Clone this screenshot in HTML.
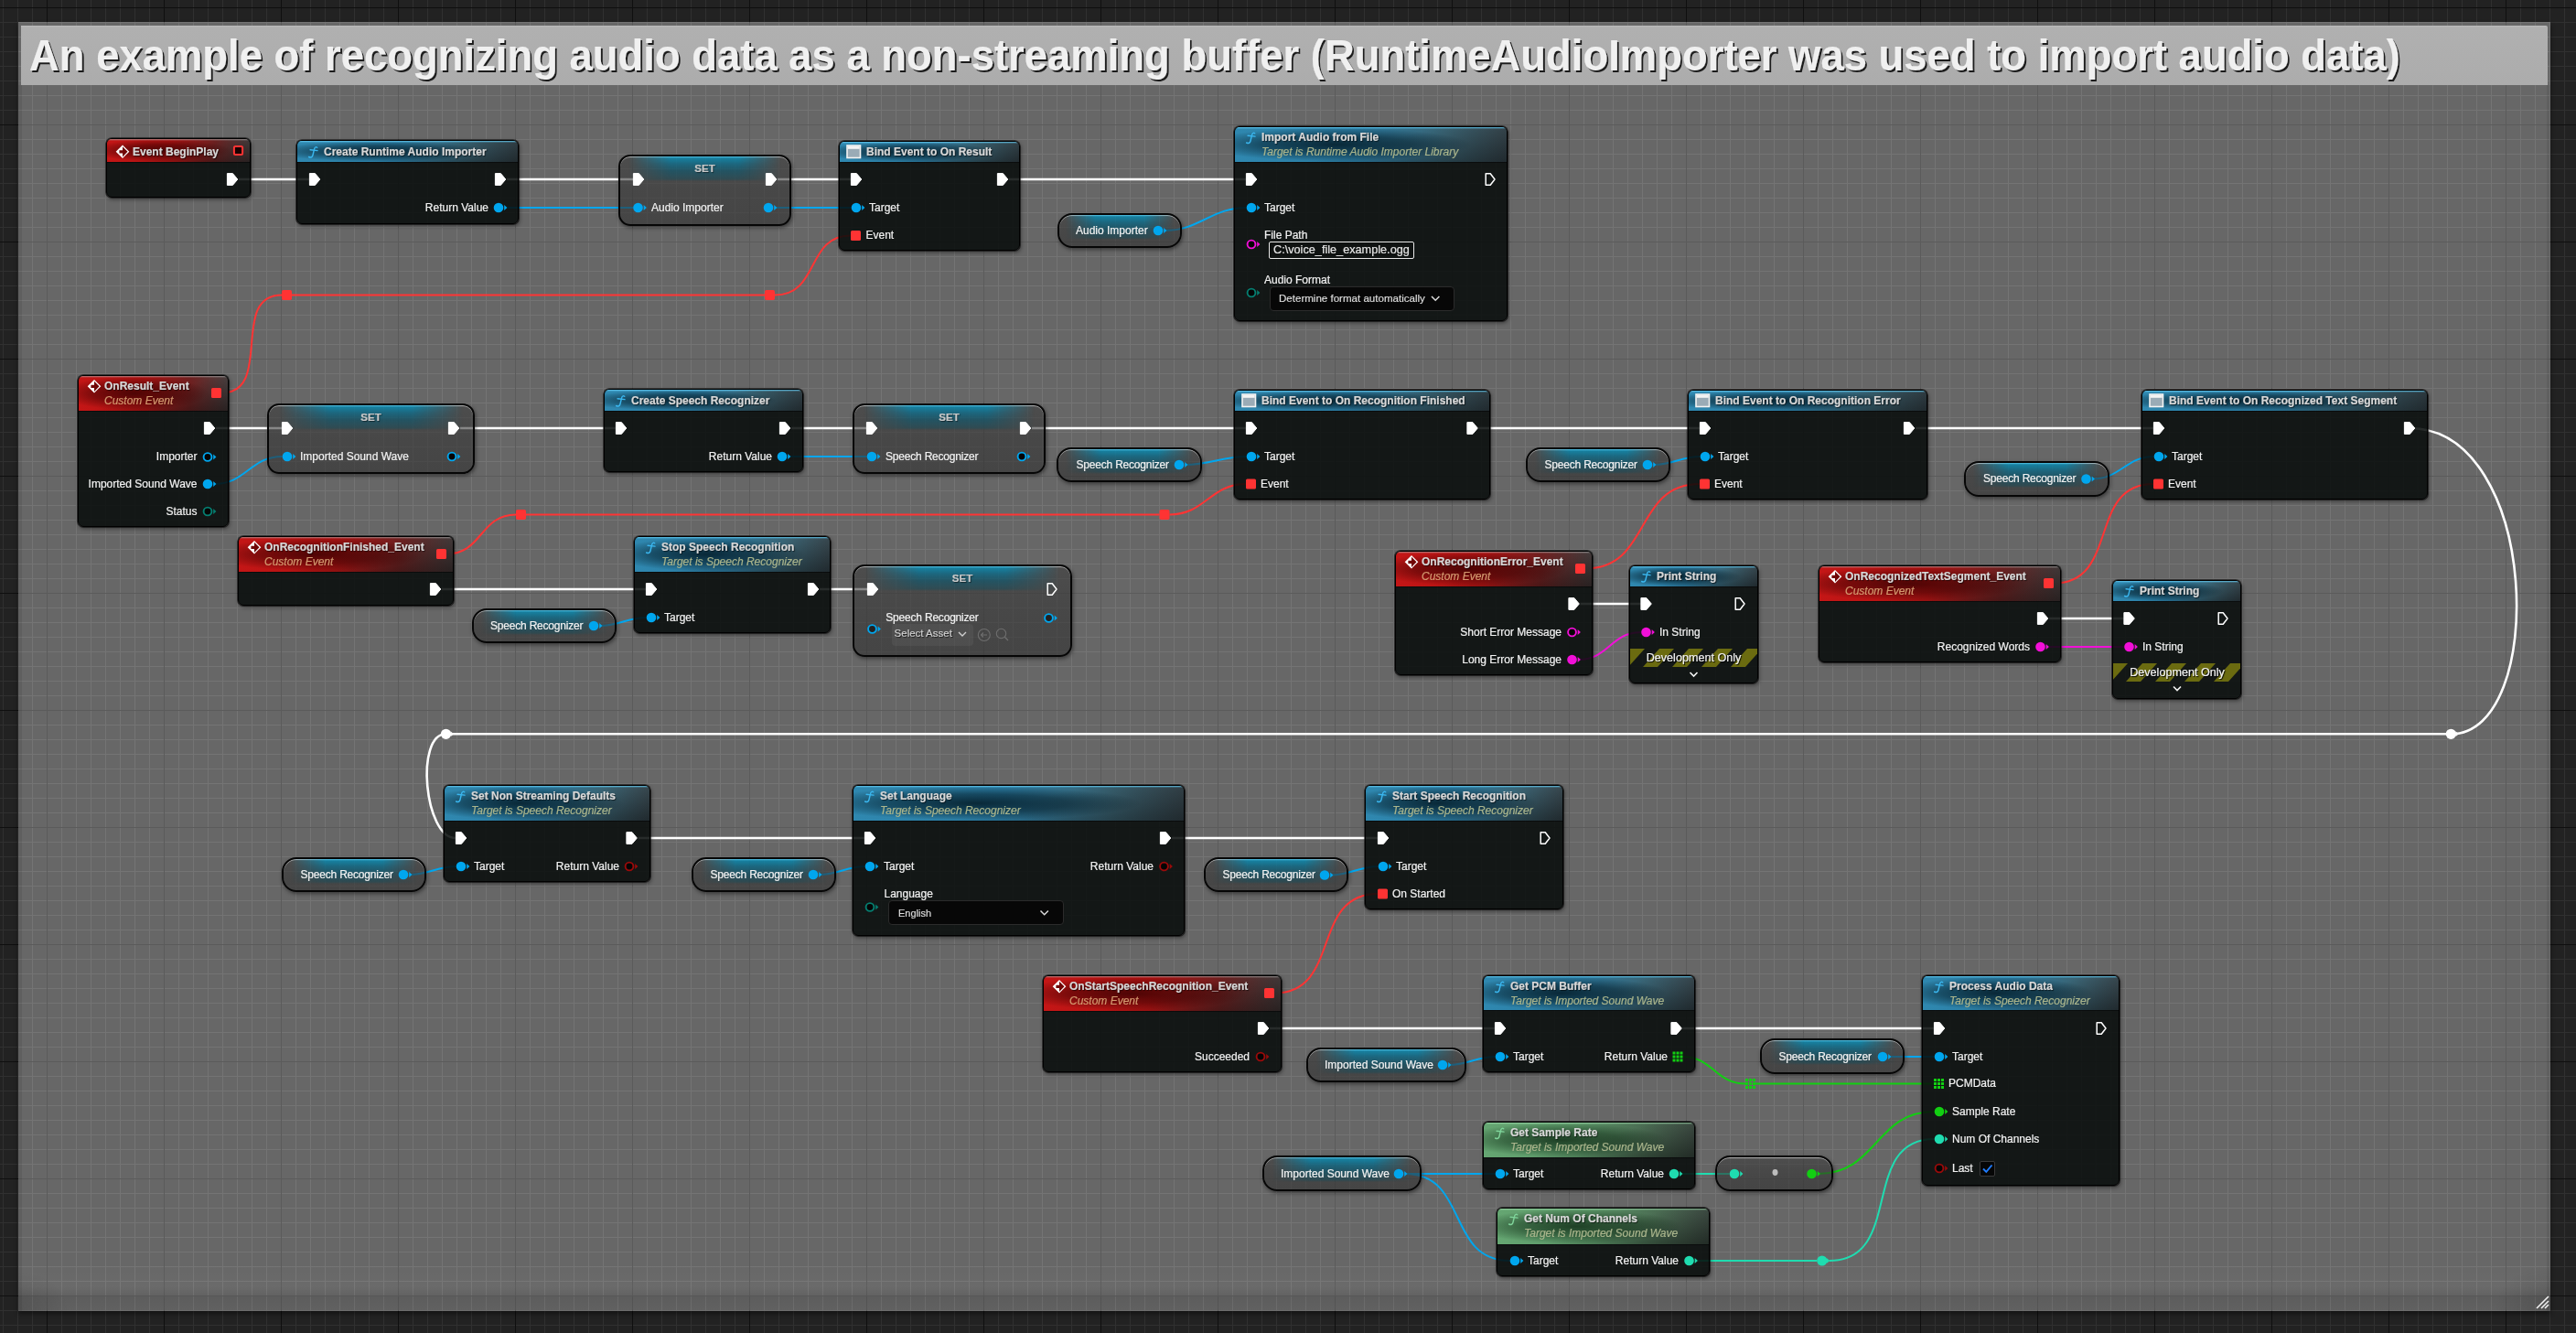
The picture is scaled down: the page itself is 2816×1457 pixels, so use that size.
<!DOCTYPE html>
<html><head><meta charset="utf-8"><title>Blueprint</title><style>
*{margin:0;padding:0}
html,body{width:2816px;height:1457px;overflow:hidden}
body{background-color:#222;position:relative;font-family:"Liberation Sans", sans-serif;
background-image:linear-gradient(90deg,#0f0f0f 1px,transparent 1px),linear-gradient(180deg,#0f0f0f 1px,transparent 1px),
linear-gradient(90deg,#303030 1px,transparent 1px),linear-gradient(180deg,#303030 1px,transparent 1px);
background-size:128px 128px,128px 128px,16px 16px,16px 16px;
background-position:51px 0,0 8px,3px 0,0 8px}
.cm{position:absolute;left:20px;top:24px;width:2768px;height:1409px;background-color:#676767;
background-image:linear-gradient(90deg,#5b5b5b 1px,transparent 1px),linear-gradient(180deg,#5b5b5b 1px,transparent 1px),
linear-gradient(90deg,#747474 1px,transparent 1px),linear-gradient(180deg,#747474 1px,transparent 1px);
background-size:128px 128px,128px 128px,16px 16px,16px 16px;
background-position:31px 0,0 -16px,15px 0,0 0;box-shadow:0 3px 5px rgba(0,0,0,.45)}
.tbar{position:absolute;left:23px;top:28px;width:2762px;height:65px;background:linear-gradient(180deg,#bdbdbd 0,#b0b0b0 2px,#acacac 100%);border-radius:0 2px 0 0}
.ttl{position:absolute;left:31.5px;top:36px;font-size:49px;font-weight:700;color:#f0f0f0;white-space:nowrap;line-height:49px;
text-shadow:2px 2px 0 #1c1c1c;-webkit-text-stroke:0.5px #f0f0f0;transform:scaleX(0.927);transform-origin:0 0}
svg{position:absolute;left:0;top:0}
.n{position:absolute;box-sizing:border-box;border:1px solid #000;border-radius:6px;background:rgba(7,11,10,.87);
box-shadow:0 0 0 0.8px rgba(0,0,0,.65),1px 2px 4px rgba(0,0,0,.45);overflow:hidden}
.hd{position:absolute;left:0;top:0;right:0;box-shadow:0 1px 0 rgba(0,0,0,.45)}
.hf{background:linear-gradient(180deg,rgba(100,205,245,.9) 0,rgba(100,205,245,0) 2px),
radial-gradient(ellipse 50% 48% at 37% 50%,rgba(2,22,32,.82) 0%,rgba(2,22,32,.5) 55%,rgba(2,22,32,0) 100%),
linear-gradient(165deg,rgba(0,0,0,0) 50%,rgba(12,16,18,.6) 100%),
linear-gradient(90deg,#2f88b0 0%,#2a7aa0 45%,#3a6474 78%,#3f5058 100%)}
.he{background:linear-gradient(180deg,rgba(175,175,175,.7) 0,rgba(175,175,175,0) 2px),
radial-gradient(ellipse 50% 48% at 37% 50%,rgba(45,0,0,.75) 0%,rgba(45,0,0,.45) 55%,rgba(45,0,0,0) 100%),
linear-gradient(165deg,rgba(0,0,0,0) 50%,rgba(18,12,12,.6) 100%),
linear-gradient(90deg,#c41616 0%,#ae1212 45%,#6e2020 75%,#4a4242 100%)}
.hp{background:linear-gradient(180deg,rgba(170,235,185,.7) 0,rgba(170,235,185,0) 2px),
radial-gradient(ellipse 50% 48% at 37% 50%,rgba(5,28,10,.7) 0%,rgba(5,28,10,.42) 55%,rgba(5,28,10,0) 100%),
linear-gradient(165deg,rgba(0,0,0,0) 50%,rgba(12,18,14,.6) 100%),
linear-gradient(90deg,#65a672 0%,#5a9466 45%,#4a6a52 78%,#44524a 100%)}
.ns{position:absolute;box-sizing:border-box;border:2px solid #060606;border-radius:13px;
background:linear-gradient(180deg,rgba(110,110,110,.55) 0,rgba(55,55,55,.55) 2px,rgba(52,52,52,.62) 50%,rgba(48,48,48,.62) 100%);
box-shadow:1px 2px 4px rgba(0,0,0,.45), inset 0 1px 0 rgba(230,230,230,.55);overflow:hidden}
.pl{border-radius:16px}
.glow{position:absolute;left:0;right:0;top:0;height:27px;
background:linear-gradient(180deg,rgba(60,190,230,.85) 0,rgba(0,150,195,.7) 2px,rgba(0,120,158,.62) 30%,rgba(0,92,120,.52) 60%,rgba(15,78,95,.42) 92%,rgba(15,78,95,0) 100%);
-webkit-mask-image:linear-gradient(90deg,transparent 5%,#000 30%,#000 70%,transparent 95%);mask-image:linear-gradient(90deg,transparent 5%,#000 30%,#000 70%,transparent 95%)}
.t{position:absolute;white-space:nowrap;line-height:1;font-family:"Liberation Sans", sans-serif;-webkit-text-stroke:0.2px currentColor}
.tb{position:absolute;box-sizing:border-box;border:1px solid #e8e8e8;border-radius:2px;background:rgba(0,0,0,.2)}
.dd{position:absolute;box-sizing:border-box;border:1px solid #2b2b2b;border-radius:4px;background:#070707}
.sa{position:absolute;border-radius:4px;background:rgba(120,120,120,.18)}
.cb{position:absolute;box-sizing:border-box;border:1px solid #3a3a3a;border-radius:2px;background:#060606}
.dev{position:absolute;background:repeating-linear-gradient(-56deg,transparent 0,transparent 14px,#6a6a12 14px,#6a6a12 27px)}
</style></head>
<body>
<div class="cm"></div>
<div class="tbar"></div>
<div style="position:absolute;left:20px;top:1417px;width:2768px;height:16px;background:linear-gradient(180deg,rgba(0,0,0,.1),rgba(0,0,0,.06))"></div>
<div style="position:absolute;left:20px;top:1380px;width:2768px;height:37px;background:linear-gradient(180deg,rgba(255,255,255,0),rgba(255,255,255,.025) 70%,rgba(0,0,0,.05) 100%)"></div>
<div style="position:absolute;left:20px;top:93px;width:4px;height:1340px;background:rgba(0,0,0,.07)"></div>
<div style="position:absolute;left:2784px;top:93px;width:4px;height:1340px;background:rgba(0,0,0,.07)"></div>
<div style="position:absolute;left:2700px;top:1360px;width:88px;height:73px;background:radial-gradient(ellipse 100% 100% at 100% 100%,rgba(0,0,0,.14),rgba(0,0,0,0) 70%)"></div>
<div style="position:absolute;left:20px;top:1370px;width:80px;height:63px;background:radial-gradient(ellipse 100% 100% at 0% 100%,rgba(0,0,0,.12),rgba(0,0,0,0) 70%)"></div>
<div class="t ttl">An example of recognizing audio data as a non-streaming buffer (RuntimeAudioImporter was used to import audio data)</div>
<svg width="2816" height="1457" viewBox="0 0 2816 1457"><path d="M261.0 196.0 L338.5 196.0" stroke="#ffffff" stroke-width="2.6" fill="none"/><path d="M554.0 196.0 L692.5 196.0" stroke="#ffffff" stroke-width="2.6" fill="none"/><path d="M850.0 196.0 L930.5 196.0" stroke="#ffffff" stroke-width="2.6" fill="none"/><path d="M1103.0 196.0 L1362.5 196.0" stroke="#ffffff" stroke-width="2.6" fill="none"/><path d="M236.0 468.0 L308.5 468.0" stroke="#ffffff" stroke-width="2.6" fill="none"/><path d="M503.0 468.0 L673.5 468.0" stroke="#ffffff" stroke-width="2.6" fill="none"/><path d="M865.0 468.0 L947.5 468.0" stroke="#ffffff" stroke-width="2.6" fill="none"/><path d="M1128.0 468.0 L1362.5 468.0" stroke="#ffffff" stroke-width="2.6" fill="none"/><path d="M1616.5 468.0 L1858.5 468.0" stroke="#ffffff" stroke-width="2.6" fill="none"/><path d="M2094.0 468.0 L2354.5 468.0" stroke="#ffffff" stroke-width="2.6" fill="none"/><path d="M2634 468 C2777 468 2785.3 802.3 2679.3 802.3" stroke="#fff" stroke-width="2.6" fill="none"/><path d="M2679.3 802.3 L487.5 802.3" stroke="#fff" stroke-width="2.6" fill="none"/><path d="M487.5 802.3 C453.5 802.3 464.0 916.0 498.0 916.0" stroke="#ffffff" stroke-width="2.6" fill="none"/><path d="M697.5 916.0 L945.5 916.0" stroke="#ffffff" stroke-width="2.6" fill="none"/><path d="M1281.0 916.0 L1506.5 916.0" stroke="#ffffff" stroke-width="2.6" fill="none"/><path d="M483.0 644.0 L706.5 644.0" stroke="#ffffff" stroke-width="2.6" fill="none"/><path d="M896.0 644.0 L948.5 644.0" stroke="#ffffff" stroke-width="2.6" fill="none"/><path d="M1727.5 660.0 L1794.0 660.0" stroke="#ffffff" stroke-width="2.6" fill="none"/><path d="M2240.0 676.0 L2322.0 676.0" stroke="#ffffff" stroke-width="2.6" fill="none"/><path d="M1388.0 1124.0 L1634.5 1124.0" stroke="#ffffff" stroke-width="2.6" fill="none"/><path d="M1839.5 1124.0 L2114.5 1124.0" stroke="#ffffff" stroke-width="2.6" fill="none"/><path d="M552.0 227.0 L692.0 227.0" stroke="#00a6ee" stroke-width="2.0" fill="none"/><path d="M847.0 227.0 L930.5 227.0" stroke="#00a6ee" stroke-width="2.0" fill="none"/><path d="M1273.0 252.0 C1311.2 252.0 1324.3 227.0 1362.5 227.0" stroke="#00a6ee" stroke-width="2.0" fill="none"/><path d="M234.0 529.0 C268.8 529.0 273.7 499.0 308.5 499.0" stroke="#00a6ee" stroke-width="2.0" fill="none"/><path d="M862.0 499.0 L947.5 499.0" stroke="#00a6ee" stroke-width="2.0" fill="none"/><path d="M1296.0 508.0 C1321.2 508.0 1337.3 499.0 1362.5 499.0" stroke="#00a6ee" stroke-width="2.0" fill="none"/><path d="M1808.0 508.0 C1827.8 508.0 1838.7 499.0 1858.5 499.0" stroke="#00a6ee" stroke-width="2.0" fill="none"/><path d="M2287.5 523.5 C2318.0 523.5 2324.0 499.0 2354.5 499.0" stroke="#00a6ee" stroke-width="2.0" fill="none"/><path d="M656.0 684.0 C675.8 684.0 686.7 675.0 706.5 675.0" stroke="#00a6ee" stroke-width="2.0" fill="none"/><path d="M448.0 956.0 C467.8 956.0 478.7 947.0 498.5 947.0" stroke="#00a6ee" stroke-width="2.0" fill="none"/><path d="M896.0 956.0 C915.5 956.0 926.0 947.0 945.5 947.0" stroke="#00a6ee" stroke-width="2.0" fill="none"/><path d="M1455.0 956.5 C1475.3 956.5 1486.2 947.0 1506.5 947.0" stroke="#00a6ee" stroke-width="2.0" fill="none"/><path d="M1584.0 1164.0 C1603.8 1164.0 1614.7 1155.0 1634.5 1155.0" stroke="#00a6ee" stroke-width="2.0" fill="none"/><path d="M2065.0 1155.0 L2114.5 1155.0" stroke="#00a6ee" stroke-width="2.0" fill="none"/><path d="M1536.0 1283.0 L1634.5 1283.0" stroke="#00a6ee" stroke-width="2.0" fill="none"/><path d="M1536.0 1283.0 C1605.8 1283.0 1580.7 1378.0 1650.5 1378.0" stroke="#00a6ee" stroke-width="2.0" fill="none"/><path d="M242.0 429.5 C299.7 429.5 250.3 322.5 308.0 322.5" stroke="#ff3434" stroke-width="2.0" fill="none"/><path d="M319.0 322.5 L836.0 322.5" stroke="#ff3434" stroke-width="2.0" fill="none"/><path d="M847.0 322.5 C896.3 322.5 880.7 257.5 930.0 257.5" stroke="#ff3434" stroke-width="2.0" fill="none"/><path d="M488.0 605.5 C527.7 605.5 524.3 562.5 564.0 562.5" stroke="#ff3434" stroke-width="2.0" fill="none"/><path d="M575.0 562.5 L1267.5 562.5" stroke="#ff3434" stroke-width="2.0" fill="none"/><path d="M1278.5 562.5 C1317.5 562.5 1323.0 529.0 1362.0 529.0" stroke="#ff3434" stroke-width="2.0" fill="none"/><path d="M1733.0 621.5 C1805.5 621.5 1785.5 529.0 1858.0 529.0" stroke="#ff3434" stroke-width="2.0" fill="none"/><path d="M2245.0 637.5 C2317.5 637.5 2281.5 529.0 2354.0 529.0" stroke="#ff3434" stroke-width="2.0" fill="none"/><path d="M1393.0 1085.5 C1466.8 1085.5 1432.2 977.0 1506.0 977.0" stroke="#ff3434" stroke-width="2.0" fill="none"/><path d="M1725.5 721.0 C1758.3 721.0 1761.2 691.0 1794.0 691.0" stroke="#f20fd8" stroke-width="2.0" fill="none"/><path d="M2237.5 707.0 L2322.0 707.0" stroke="#f20fd8" stroke-width="2.0" fill="none"/><path d="M1839.5 1155.0 C1872.2 1155.0 1875.3 1184.5 1908.0 1184.5" stroke="#12cf12" stroke-width="2.0" fill="none"/><path d="M1919.0 1184.5 L2114.0 1184.5" stroke="#12cf12" stroke-width="2.0" fill="none"/><path d="M1987.5 1283.0 C2052.5 1283.0 2049.5 1215.0 2114.5 1215.0" stroke="#12cf12" stroke-width="2.0" fill="none"/><path d="M1837.0 1283.0 L1890.5 1283.0" stroke="#1fdcb0" stroke-width="2.0" fill="none"/><path d="M1853.5 1378.0 L1986.3 1378.0" stroke="#1fdcb0" stroke-width="2.0" fill="none"/><path d="M1999.8 1378.0 C2082.4 1378.0 2031.9 1245.0 2114.5 1245.0" stroke="#1fdcb0" stroke-width="2.0" fill="none"/></svg>
<div class="n" style="left:116px;top:151px;width:158px;height:65px"><div class="hd he" style="height:25px"></div></div><div class="n" style="left:324px;top:153px;width:243px;height:92px"><div class="hd hf" style="height:23px"></div></div><div class="ns" style="left:676px;top:169px;width:189px;height:78px"><div class="glow"></div></div><div class="n" style="left:917px;top:154px;width:198px;height:120px"><div class="hd hf" style="height:22px"></div></div><div class="ns pl" style="left:1156px;top:233px;width:136px;height:38px"><div class="glow"></div></div><div class="n" style="left:1349px;top:138px;width:299px;height:213px"><div class="hd hf" style="height:38px"></div></div><div class="tb" style="left:1387px;top:264px;width:159px;height:19px"></div><div class="dd" style="left:1388px;top:313px;width:202px;height:27px"></div><div class="n" style="left:85px;top:410px;width:165px;height:166px"><div class="hd he" style="height:38px"></div></div><div class="ns" style="left:292px;top:441px;width:227px;height:77px"><div class="glow"></div></div><div class="n" style="left:660px;top:425px;width:218px;height:91px"><div class="hd hf" style="height:23px"></div></div><div class="ns" style="left:932px;top:441px;width:211px;height:77px"><div class="glow"></div></div><div class="ns pl" style="left:1155px;top:489px;width:159px;height:38px"><div class="glow"></div></div><div class="n" style="left:1349px;top:426px;width:280px;height:120px"><div class="hd hf" style="height:22px"></div></div><div class="ns pl" style="left:1668px;top:489px;width:158px;height:38px"><div class="glow"></div></div><div class="n" style="left:1845px;top:426px;width:262px;height:120px"><div class="hd hf" style="height:22px"></div></div><div class="ns pl" style="left:2147px;top:504px;width:159px;height:39px"><div class="glow"></div></div><div class="n" style="left:2341px;top:426px;width:313px;height:120px"><div class="hd hf" style="height:22px"></div></div><div class="n" style="left:260px;top:586px;width:236px;height:76px"><div class="hd he" style="height:38px"></div></div><div class="ns pl" style="left:516px;top:665px;width:158px;height:38px"><div class="glow"></div></div><div class="n" style="left:693px;top:586px;width:215px;height:106px"><div class="hd hf" style="height:38px"></div></div><div class="ns" style="left:932px;top:617px;width:240px;height:101px"><div class="glow"></div></div><div class="sa" style="left:975px;top:682px;width:89px;height:24px"></div><div class="n" style="left:1525px;top:602px;width:216px;height:136px"><div class="hd he" style="height:38px"></div></div><div class="n" style="left:1781px;top:618px;width:141px;height:129px"><div class="hd hf" style="height:22px"></div></div><div class="n" style="left:1988px;top:618px;width:265px;height:106px"><div class="hd he" style="height:38px"></div></div><div class="n" style="left:2309px;top:634px;width:141px;height:130px"><div class="hd hf" style="height:22px"></div></div><div class="n" style="left:485px;top:858px;width:226px;height:106px"><div class="hd hf" style="height:38px"></div></div><div class="ns pl" style="left:308px;top:937px;width:158px;height:38px"><div class="glow"></div></div><div class="ns pl" style="left:756px;top:937px;width:158px;height:38px"><div class="glow"></div></div><div class="n" style="left:932px;top:858px;width:363px;height:165px"><div class="hd hf" style="height:38px"></div></div><div class="dd" style="left:971px;top:984px;width:192px;height:27px"></div><div class="ns pl" style="left:1316px;top:937px;width:158px;height:38px"><div class="glow"></div></div><div class="n" style="left:1492px;top:858px;width:217px;height:136px"><div class="hd hf" style="height:38px"></div></div><div class="n" style="left:1140px;top:1066px;width:261px;height:106px"><div class="hd he" style="height:38px"></div></div><div class="ns pl" style="left:1428px;top:1145px;width:175px;height:38px"><div class="glow"></div></div><div class="n" style="left:1621px;top:1066px;width:232px;height:106px"><div class="hd hf" style="height:37px"></div></div><div class="n" style="left:2101px;top:1066px;width:216px;height:230px"><div class="hd hf" style="height:37px"></div></div><div class="cb" style="left:2164px;top:1269px;width:17px;height:17px"></div><div class="ns pl" style="left:1924px;top:1135px;width:158px;height:39px"><div class="glow"></div></div><div class="n" style="left:1621px;top:1226px;width:232px;height:74px"><div class="hd hp" style="height:38px"></div></div><div class="ns pl" style="left:1380px;top:1263px;width:174px;height:39px"><div class="glow"></div></div><div class="ns pl" style="left:1875px;top:1263px;width:129px;height:39px"></div><div class="n" style="left:1636px;top:1320px;width:233px;height:75px"><div class="hd hp" style="height:39px"></div></div>
<svg width="2816" height="1457" viewBox="0 0 2816 1457"><clipPath id="clip2309"><rect x="2310" y="725" width="139" height="20"/></clipPath><g clip-path="url(#clip2309)" fill="#6b6b10"><path d="M2310.0 725 L2326.0 725 L2308.0 745 L2292.0 745 Z"/><path d="M2342.0 725 L2358.0 725 L2340.0 745 L2324.0 745 Z"/><path d="M2374.0 725 L2390.0 725 L2372.0 745 L2356.0 745 Z"/><path d="M2406.0 725 L2422.0 725 L2404.0 745 L2388.0 745 Z"/><path d="M2438.0 725 L2454.0 725 L2436.0 745 L2420.0 745 Z"/><path d="M2470.0 725 L2486.0 725 L2468.0 745 L2452.0 745 Z"/><path d="M2502.0 725 L2518.0 725 L2500.0 745 L2484.0 745 Z"/></g><clipPath id="clip1781"><rect x="1782" y="709" width="139" height="20"/></clipPath><g clip-path="url(#clip1781)" fill="#6b6b10"><path d="M1782.0 709 L1798.0 709 L1780.0 729 L1764.0 729 Z"/><path d="M1814.0 709 L1830.0 709 L1812.0 729 L1796.0 729 Z"/><path d="M1846.0 709 L1862.0 709 L1844.0 729 L1828.0 729 Z"/><path d="M1878.0 709 L1894.0 709 L1876.0 729 L1860.0 729 Z"/><path d="M1910.0 709 L1926.0 709 L1908.0 729 L1892.0 729 Z"/><path d="M1942.0 709 L1958.0 709 L1940.0 729 L1924.0 729 Z"/><path d="M1974.0 709 L1990.0 709 L1972.0 729 L1956.0 729 Z"/></g><path d="M134.0 158.5 L141.3 165.8 L134.0 173.1 L126.7 165.8 Z" fill="#fff"/><path d="M130.4 164.2 L134.0 164.2 L134.0 160.2 L139.5 165.8 L134.0 171.4 L134.0 167.4 L130.4 167.4 Z" fill="#700606"/><rect x="255.9" y="159.9" width="9.2" height="9.2" rx="1.5" fill="#1a0000" stroke="#ff3333" stroke-width="2"/><path d="M248.4 189.6 L254.4 189.6 L259.8 196.0 L254.4 202.4 L248.4 202.4 Z" fill="#fff" stroke="#fff" stroke-width="1" stroke-linejoin="round"/><g transform="translate(336.7,160.2)" stroke="#3ab6ee" stroke-width="1.45" stroke-linecap="round" fill="none"><path d="M10 1 C8.7 0 7.2 0.8 6.8 3 L5.3 9.3 C4.8 11.6 3.1 12.4 0.9 11.3"/><path d="M2.4 3.6 L10.3 4.4"/></g><path d="M338.4 189.6 L344.4 189.6 L349.8 196.0 L344.4 202.4 L338.4 202.4 Z" fill="#fff" stroke="#fff" stroke-width="1" stroke-linejoin="round"/><path d="M541.4 189.6 L547.4 189.6 L552.8 196.0 L547.4 202.4 L541.4 202.4 Z" fill="#fff" stroke="#fff" stroke-width="1" stroke-linejoin="round"/><circle cx="545.0" cy="227.0" r="5.3" fill="#00a6ee"/><path d="M551.2 224.0 L554.4 227.0 L551.2 230.0 Z" fill="#00a6ee"/><path d="M692.4 189.6 L698.4 189.6 L703.8 196.0 L698.4 202.4 L692.4 202.4 Z" fill="#fff" stroke="#fff" stroke-width="1" stroke-linejoin="round"/><path d="M837.4 189.6 L843.4 189.6 L848.8 196.0 L843.4 202.4 L837.4 202.4 Z" fill="#fff" stroke="#fff" stroke-width="1" stroke-linejoin="round"/><circle cx="697.5" cy="227.0" r="5.3" fill="#00a6ee"/><path d="M703.7 224.0 L706.9 227.0 L703.7 230.0 Z" fill="#00a6ee"/><circle cx="840.0" cy="227.0" r="5.3" fill="#00a6ee"/><path d="M846.2 224.0 L849.4 227.0 L846.2 230.0 Z" fill="#00a6ee"/><rect x="926.0" y="159.0" width="14.5" height="13.5" fill="#9aabb6" stroke="#f4f4f4" stroke-width="1.6"/><rect x="926.8" y="159.8" width="12.9" height="3" fill="#f4f4f4"/><path d="M930.4 189.6 L936.4 189.6 L941.8 196.0 L936.4 202.4 L930.4 202.4 Z" fill="#fff" stroke="#fff" stroke-width="1" stroke-linejoin="round"/><path d="M1090.4 189.6 L1096.4 189.6 L1101.8 196.0 L1096.4 202.4 L1090.4 202.4 Z" fill="#fff" stroke="#fff" stroke-width="1" stroke-linejoin="round"/><circle cx="936.0" cy="227.0" r="5.3" fill="#00a6ee"/><path d="M942.2 224.0 L945.4 227.0 L942.2 230.0 Z" fill="#00a6ee"/><rect x="930.0" y="252.0" width="11" height="11" rx="1.5" fill="#ff3333"/><circle cx="1266.0" cy="252.0" r="5.3" fill="#00a6ee"/><path d="M1272.2 249.0 L1275.4 252.0 L1272.2 255.0 Z" fill="#00a6ee"/><g transform="translate(1361.7,144.7)" stroke="#3ab6ee" stroke-width="1.45" stroke-linecap="round" fill="none"><path d="M10 1 C8.7 0 7.2 0.8 6.8 3 L5.3 9.3 C4.8 11.6 3.1 12.4 0.9 11.3"/><path d="M2.4 3.6 L10.3 4.4"/></g><path d="M1362.4 189.6 L1368.4 189.6 L1373.8 196.0 L1368.4 202.4 L1362.4 202.4 Z" fill="#fff" stroke="#fff" stroke-width="1" stroke-linejoin="round"/><path d="M1624.2 189.8 L1629.2 189.8 L1634.0 196.0 L1629.2 202.2 L1624.2 202.2 Z" fill="none" stroke="#fff" stroke-width="1.5" stroke-linejoin="round"/><circle cx="1368.0" cy="227.0" r="5.3" fill="#00a6ee"/><path d="M1374.2 224.0 L1377.4 227.0 L1374.2 230.0 Z" fill="#00a6ee"/><circle cx="1368.0" cy="267.0" r="4.4" fill="#050505" stroke="#f20fd8" stroke-width="1.9"/><path d="M1374.2 264.0 L1377.4 267.0 L1374.2 270.0 Z" fill="#f20fd8"/><circle cx="1368.0" cy="320.0" r="4.4" fill="#050505" stroke="#057e70" stroke-width="1.9"/><path d="M1374.2 317.0 L1377.4 320.0 L1374.2 323.0 Z" fill="#057e70"/><path d="M103.0 415.0 L110.3 422.3 L103.0 429.6 L95.7 422.3 Z" fill="#fff"/><path d="M99.4 420.7 L103.0 420.7 L103.0 416.7 L108.5 422.3 L103.0 427.9 L103.0 423.9 L99.4 423.9 Z" fill="#700606"/><rect x="231.0" y="424.0" width="11" height="11" rx="1.5" fill="#ff3333"/><path d="M223.4 461.6 L229.4 461.6 L234.8 468.0 L229.4 474.4 L223.4 474.4 Z" fill="#fff" stroke="#fff" stroke-width="1" stroke-linejoin="round"/><circle cx="227.0" cy="499.5" r="4.4" fill="#050505" stroke="#00a6ee" stroke-width="1.9"/><path d="M233.2 496.5 L236.4 499.5 L233.2 502.5 Z" fill="#00a6ee"/><circle cx="227.0" cy="529.0" r="5.3" fill="#00a6ee"/><path d="M233.2 526.0 L236.4 529.0 L233.2 532.0 Z" fill="#00a6ee"/><circle cx="227.0" cy="559.0" r="4.4" fill="#050505" stroke="#057e70" stroke-width="1.9"/><path d="M233.2 556.0 L236.4 559.0 L233.2 562.0 Z" fill="#057e70"/><path d="M308.4 461.6 L314.4 461.6 L319.8 468.0 L314.4 474.4 L308.4 474.4 Z" fill="#fff" stroke="#fff" stroke-width="1" stroke-linejoin="round"/><path d="M490.4 461.6 L496.4 461.6 L501.8 468.0 L496.4 474.4 L490.4 474.4 Z" fill="#fff" stroke="#fff" stroke-width="1" stroke-linejoin="round"/><circle cx="314.0" cy="499.0" r="5.3" fill="#00a6ee"/><path d="M320.2 496.0 L323.4 499.0 L320.2 502.0 Z" fill="#00a6ee"/><circle cx="494.0" cy="499.0" r="4.4" fill="#050505" stroke="#00a6ee" stroke-width="1.9"/><path d="M500.2 496.0 L503.4 499.0 L500.2 502.0 Z" fill="#00a6ee"/><g transform="translate(672.7,432.2)" stroke="#3ab6ee" stroke-width="1.45" stroke-linecap="round" fill="none"><path d="M10 1 C8.7 0 7.2 0.8 6.8 3 L5.3 9.3 C4.8 11.6 3.1 12.4 0.9 11.3"/><path d="M2.4 3.6 L10.3 4.4"/></g><path d="M673.4 461.6 L679.4 461.6 L684.8 468.0 L679.4 474.4 L673.4 474.4 Z" fill="#fff" stroke="#fff" stroke-width="1" stroke-linejoin="round"/><path d="M852.4 461.6 L858.4 461.6 L863.8 468.0 L858.4 474.4 L852.4 474.4 Z" fill="#fff" stroke="#fff" stroke-width="1" stroke-linejoin="round"/><circle cx="855.0" cy="499.0" r="5.3" fill="#00a6ee"/><path d="M861.2 496.0 L864.4 499.0 L861.2 502.0 Z" fill="#00a6ee"/><path d="M947.4 461.6 L953.4 461.6 L958.8 468.0 L953.4 474.4 L947.4 474.4 Z" fill="#fff" stroke="#fff" stroke-width="1" stroke-linejoin="round"/><path d="M1115.4 461.6 L1121.4 461.6 L1126.8 468.0 L1121.4 474.4 L1115.4 474.4 Z" fill="#fff" stroke="#fff" stroke-width="1" stroke-linejoin="round"/><circle cx="953.0" cy="499.0" r="5.3" fill="#00a6ee"/><path d="M959.2 496.0 L962.4 499.0 L959.2 502.0 Z" fill="#00a6ee"/><circle cx="1117.0" cy="499.0" r="4.4" fill="#050505" stroke="#00a6ee" stroke-width="1.9"/><path d="M1123.2 496.0 L1126.4 499.0 L1123.2 502.0 Z" fill="#00a6ee"/><circle cx="1289.0" cy="508.0" r="5.3" fill="#00a6ee"/><path d="M1295.2 505.0 L1298.4 508.0 L1295.2 511.0 Z" fill="#00a6ee"/><rect x="1358.0" y="431.0" width="14.5" height="13.5" fill="#9aabb6" stroke="#f4f4f4" stroke-width="1.6"/><rect x="1358.8" y="431.8" width="12.9" height="3" fill="#f4f4f4"/><path d="M1362.4 461.6 L1368.4 461.6 L1373.8 468.0 L1368.4 474.4 L1362.4 474.4 Z" fill="#fff" stroke="#fff" stroke-width="1" stroke-linejoin="round"/><path d="M1603.9 461.6 L1609.9 461.6 L1615.3 468.0 L1609.9 474.4 L1603.9 474.4 Z" fill="#fff" stroke="#fff" stroke-width="1" stroke-linejoin="round"/><circle cx="1368.0" cy="499.0" r="5.3" fill="#00a6ee"/><path d="M1374.2 496.0 L1377.4 499.0 L1374.2 502.0 Z" fill="#00a6ee"/><rect x="1362.0" y="523.5" width="11" height="11" rx="1.5" fill="#ff3333"/><circle cx="1801.0" cy="508.0" r="5.3" fill="#00a6ee"/><path d="M1807.2 505.0 L1810.4 508.0 L1807.2 511.0 Z" fill="#00a6ee"/><rect x="1854.0" y="431.0" width="14.5" height="13.5" fill="#9aabb6" stroke="#f4f4f4" stroke-width="1.6"/><rect x="1854.8" y="431.8" width="12.9" height="3" fill="#f4f4f4"/><path d="M1858.4 461.6 L1864.4 461.6 L1869.8 468.0 L1864.4 474.4 L1858.4 474.4 Z" fill="#fff" stroke="#fff" stroke-width="1" stroke-linejoin="round"/><path d="M2081.4 461.6 L2087.4 461.6 L2092.8 468.0 L2087.4 474.4 L2081.4 474.4 Z" fill="#fff" stroke="#fff" stroke-width="1" stroke-linejoin="round"/><circle cx="1864.0" cy="499.0" r="5.3" fill="#00a6ee"/><path d="M1870.2 496.0 L1873.4 499.0 L1870.2 502.0 Z" fill="#00a6ee"/><rect x="1858.0" y="523.5" width="11" height="11" rx="1.5" fill="#ff3333"/><circle cx="2280.5" cy="523.5" r="5.3" fill="#00a6ee"/><path d="M2286.7 520.5 L2289.9 523.5 L2286.7 526.5 Z" fill="#00a6ee"/><rect x="2350.0" y="431.0" width="14.5" height="13.5" fill="#9aabb6" stroke="#f4f4f4" stroke-width="1.6"/><rect x="2350.8" y="431.8" width="12.9" height="3" fill="#f4f4f4"/><path d="M2354.4 461.6 L2360.4 461.6 L2365.8 468.0 L2360.4 474.4 L2354.4 474.4 Z" fill="#fff" stroke="#fff" stroke-width="1" stroke-linejoin="round"/><path d="M2628.4 461.6 L2634.4 461.6 L2639.8 468.0 L2634.4 474.4 L2628.4 474.4 Z" fill="#fff" stroke="#fff" stroke-width="1" stroke-linejoin="round"/><circle cx="2360.0" cy="499.0" r="5.3" fill="#00a6ee"/><path d="M2366.2 496.0 L2369.4 499.0 L2366.2 502.0 Z" fill="#00a6ee"/><rect x="2354.0" y="523.5" width="11" height="11" rx="1.5" fill="#ff3333"/><path d="M278.0 591.0 L285.3 598.3 L278.0 605.6 L270.7 598.3 Z" fill="#fff"/><path d="M274.4 596.7 L278.0 596.7 L278.0 592.7 L283.5 598.3 L278.0 603.9 L278.0 599.9 L274.4 599.9 Z" fill="#700606"/><rect x="477.0" y="600.0" width="11" height="11" rx="1.5" fill="#ff3333"/><path d="M470.4 637.6 L476.4 637.6 L481.8 644.0 L476.4 650.4 L470.4 650.4 Z" fill="#fff" stroke="#fff" stroke-width="1" stroke-linejoin="round"/><circle cx="649.0" cy="684.0" r="5.3" fill="#00a6ee"/><path d="M655.2 681.0 L658.4 684.0 L655.2 687.0 Z" fill="#00a6ee"/><g transform="translate(705.7,592.7)" stroke="#3ab6ee" stroke-width="1.45" stroke-linecap="round" fill="none"><path d="M10 1 C8.7 0 7.2 0.8 6.8 3 L5.3 9.3 C4.8 11.6 3.1 12.4 0.9 11.3"/><path d="M2.4 3.6 L10.3 4.4"/></g><path d="M706.4 637.6 L712.4 637.6 L717.8 644.0 L712.4 650.4 L706.4 650.4 Z" fill="#fff" stroke="#fff" stroke-width="1" stroke-linejoin="round"/><path d="M883.4 637.6 L889.4 637.6 L894.8 644.0 L889.4 650.4 L883.4 650.4 Z" fill="#fff" stroke="#fff" stroke-width="1" stroke-linejoin="round"/><circle cx="712.0" cy="675.0" r="5.3" fill="#00a6ee"/><path d="M718.2 672.0 L721.4 675.0 L718.2 678.0 Z" fill="#00a6ee"/><path d="M948.4 637.6 L954.4 637.6 L959.8 644.0 L954.4 650.4 L948.4 650.4 Z" fill="#fff" stroke="#fff" stroke-width="1" stroke-linejoin="round"/><path d="M1145.2 637.8 L1150.2 637.8 L1155.0 644.0 L1150.2 650.2 L1145.2 650.2 Z" fill="none" stroke="#fff" stroke-width="1.5" stroke-linejoin="round"/><circle cx="1146.5" cy="675.5" r="4.4" fill="#222" stroke="#00a6ee" stroke-width="1.9"/><path d="M1152.7 672.5 L1155.9 675.5 L1152.7 678.5 Z" fill="#00a6ee"/><circle cx="953.5" cy="687.5" r="4.4" fill="#222" stroke="#00a6ee" stroke-width="1.9"/><path d="M959.7 684.5 L962.9 687.5 L959.7 690.5 Z" fill="#00a6ee"/><path d="M1048 691 L1052 695 L1056 691" stroke="#cfcfcf" stroke-width="1.4" fill="none"/><circle cx="1075.8" cy="694" r="6.5" stroke="#6e6e6e" stroke-width="1.1" fill="none"/><path d="M1079 694 L1072.5 694 M1075 691.5 L1072.5 694 L1075 696.5" stroke="#6e6e6e" stroke-width="1.1" fill="none"/><circle cx="1094.5" cy="692.5" r="5.2" stroke="#6e6e6e" stroke-width="1.1" fill="none"/><path d="M1098.3 696.3 L1102 700" stroke="#6e6e6e" stroke-width="1.3" fill="none"/><path d="M1543.0 607.0 L1550.3 614.3 L1543.0 621.6 L1535.7 614.3 Z" fill="#fff"/><path d="M1539.4 612.7 L1543.0 612.7 L1543.0 608.7 L1548.5 614.3 L1543.0 619.9 L1543.0 615.9 L1539.4 615.9 Z" fill="#700606"/><rect x="1722.0" y="616.0" width="11" height="11" rx="1.5" fill="#ff3333"/><path d="M1714.9 653.6 L1720.9 653.6 L1726.3 660.0 L1720.9 666.4 L1714.9 666.4 Z" fill="#fff" stroke="#fff" stroke-width="1" stroke-linejoin="round"/><circle cx="1718.5" cy="691.0" r="4.4" fill="#050505" stroke="#f20fd8" stroke-width="1.9"/><path d="M1724.7 688.0 L1727.9 691.0 L1724.7 694.0 Z" fill="#f20fd8"/><circle cx="1718.5" cy="721.0" r="5.3" fill="#f20fd8"/><path d="M1724.7 718.0 L1727.9 721.0 L1724.7 724.0 Z" fill="#f20fd8"/><g transform="translate(1793.7,624.2)" stroke="#3ab6ee" stroke-width="1.45" stroke-linecap="round" fill="none"><path d="M10 1 C8.7 0 7.2 0.8 6.8 3 L5.3 9.3 C4.8 11.6 3.1 12.4 0.9 11.3"/><path d="M2.4 3.6 L10.3 4.4"/></g><path d="M1793.9 653.6 L1799.9 653.6 L1805.3 660.0 L1799.9 666.4 L1793.9 666.4 Z" fill="#fff" stroke="#fff" stroke-width="1" stroke-linejoin="round"/><path d="M1897.2 653.8 L1902.2 653.8 L1907.0 660.0 L1902.2 666.2 L1897.2 666.2 Z" fill="none" stroke="#fff" stroke-width="1.5" stroke-linejoin="round"/><circle cx="1799.5" cy="691.0" r="5.3" fill="#f20fd8"/><path d="M1805.7 688.0 L1808.9 691.0 L1805.7 694.0 Z" fill="#f20fd8"/><path d="M1847.5 735.0 L1851.5 739.0 L1855.5 735.0" stroke="#f4f4f4" stroke-width="1.6" fill="none"/><path d="M2006.0 623.0 L2013.3 630.3 L2006.0 637.6 L1998.7 630.3 Z" fill="#fff"/><path d="M2002.4 628.7 L2006.0 628.7 L2006.0 624.7 L2011.5 630.3 L2006.0 635.9 L2006.0 631.9 L2002.4 631.9 Z" fill="#700606"/><rect x="2234.0" y="632.0" width="11" height="11" rx="1.5" fill="#ff3333"/><path d="M2227.4 669.6 L2233.4 669.6 L2238.8 676.0 L2233.4 682.4 L2227.4 682.4 Z" fill="#fff" stroke="#fff" stroke-width="1" stroke-linejoin="round"/><circle cx="2230.5" cy="707.0" r="5.3" fill="#f20fd8"/><path d="M2236.7 704.0 L2239.9 707.0 L2236.7 710.0 Z" fill="#f20fd8"/><g transform="translate(2321.7,640.2)" stroke="#3ab6ee" stroke-width="1.45" stroke-linecap="round" fill="none"><path d="M10 1 C8.7 0 7.2 0.8 6.8 3 L5.3 9.3 C4.8 11.6 3.1 12.4 0.9 11.3"/><path d="M2.4 3.6 L10.3 4.4"/></g><path d="M2321.9 669.6 L2327.9 669.6 L2333.3 676.0 L2327.9 682.4 L2321.9 682.4 Z" fill="#fff" stroke="#fff" stroke-width="1" stroke-linejoin="round"/><path d="M2425.2 669.8 L2430.2 669.8 L2435.0 676.0 L2430.2 682.2 L2425.2 682.2 Z" fill="none" stroke="#fff" stroke-width="1.5" stroke-linejoin="round"/><circle cx="2327.5" cy="707.0" r="5.3" fill="#f20fd8"/><path d="M2333.7 704.0 L2336.9 707.0 L2333.7 710.0 Z" fill="#f20fd8"/><path d="M2376.0 750.5 L2380.0 754.5 L2384.0 750.5" stroke="#f4f4f4" stroke-width="1.6" fill="none"/><g transform="translate(497.7,864.7)" stroke="#3ab6ee" stroke-width="1.45" stroke-linecap="round" fill="none"><path d="M10 1 C8.7 0 7.2 0.8 6.8 3 L5.3 9.3 C4.8 11.6 3.1 12.4 0.9 11.3"/><path d="M2.4 3.6 L10.3 4.4"/></g><path d="M498.4 909.6 L504.4 909.6 L509.8 916.0 L504.4 922.4 L498.4 922.4 Z" fill="#fff" stroke="#fff" stroke-width="1" stroke-linejoin="round"/><path d="M684.9 909.6 L690.9 909.6 L696.3 916.0 L690.9 922.4 L684.9 922.4 Z" fill="#fff" stroke="#fff" stroke-width="1" stroke-linejoin="round"/><circle cx="504.0" cy="947.0" r="5.3" fill="#00a6ee"/><path d="M510.2 944.0 L513.4 947.0 L510.2 950.0 Z" fill="#00a6ee"/><circle cx="688.0" cy="947.0" r="4.4" fill="#050505" stroke="#9a0a0a" stroke-width="1.9"/><path d="M694.2 944.0 L697.4 947.0 L694.2 950.0 Z" fill="#9a0a0a"/><circle cx="441.0" cy="956.0" r="5.3" fill="#00a6ee"/><path d="M447.2 953.0 L450.4 956.0 L447.2 959.0 Z" fill="#00a6ee"/><circle cx="889.0" cy="956.0" r="5.3" fill="#00a6ee"/><path d="M895.2 953.0 L898.4 956.0 L895.2 959.0 Z" fill="#00a6ee"/><g transform="translate(944.7,864.7)" stroke="#3ab6ee" stroke-width="1.45" stroke-linecap="round" fill="none"><path d="M10 1 C8.7 0 7.2 0.8 6.8 3 L5.3 9.3 C4.8 11.6 3.1 12.4 0.9 11.3"/><path d="M2.4 3.6 L10.3 4.4"/></g><path d="M945.4 909.6 L951.4 909.6 L956.8 916.0 L951.4 922.4 L945.4 922.4 Z" fill="#fff" stroke="#fff" stroke-width="1" stroke-linejoin="round"/><path d="M1268.4 909.6 L1274.4 909.6 L1279.8 916.0 L1274.4 922.4 L1268.4 922.4 Z" fill="#fff" stroke="#fff" stroke-width="1" stroke-linejoin="round"/><circle cx="951.0" cy="947.0" r="5.3" fill="#00a6ee"/><path d="M957.2 944.0 L960.4 947.0 L957.2 950.0 Z" fill="#00a6ee"/><circle cx="1272.5" cy="947.0" r="4.4" fill="#050505" stroke="#9a0a0a" stroke-width="1.9"/><path d="M1278.7 944.0 L1281.9 947.0 L1278.7 950.0 Z" fill="#9a0a0a"/><circle cx="951.0" cy="991.5" r="4.4" fill="#050505" stroke="#057e70" stroke-width="1.9"/><path d="M957.2 988.5 L960.4 991.5 L957.2 994.5 Z" fill="#057e70"/><path d="M1137.5 995.5 L1141.7 999.7 L1145.9 995.5" stroke="#dcdcdc" stroke-width="1.5" fill="none"/><path d="M1565 324 L1569.2 328.2 L1573.4 324" stroke="#dcdcdc" stroke-width="1.5" fill="none"/><circle cx="1448.0" cy="956.5" r="5.3" fill="#00a6ee"/><path d="M1454.2 953.5 L1457.4 956.5 L1454.2 959.5 Z" fill="#00a6ee"/><g transform="translate(1504.7,864.7)" stroke="#3ab6ee" stroke-width="1.45" stroke-linecap="round" fill="none"><path d="M10 1 C8.7 0 7.2 0.8 6.8 3 L5.3 9.3 C4.8 11.6 3.1 12.4 0.9 11.3"/><path d="M2.4 3.6 L10.3 4.4"/></g><path d="M1506.4 909.6 L1512.4 909.6 L1517.8 916.0 L1512.4 922.4 L1506.4 922.4 Z" fill="#fff" stroke="#fff" stroke-width="1" stroke-linejoin="round"/><path d="M1684.2 909.8 L1689.2 909.8 L1694.0 916.0 L1689.2 922.2 L1684.2 922.2 Z" fill="none" stroke="#fff" stroke-width="1.5" stroke-linejoin="round"/><circle cx="1512.0" cy="947.0" r="5.3" fill="#00a6ee"/><path d="M1518.2 944.0 L1521.4 947.0 L1518.2 950.0 Z" fill="#00a6ee"/><rect x="1506.0" y="971.5" width="11" height="11" rx="1.5" fill="#ff3333"/><path d="M1158.0 1071.0 L1165.3 1078.3 L1158.0 1085.6 L1150.7 1078.3 Z" fill="#fff"/><path d="M1154.4 1076.7 L1158.0 1076.7 L1158.0 1072.7 L1163.5 1078.3 L1158.0 1083.9 L1158.0 1079.9 L1154.4 1079.9 Z" fill="#700606"/><rect x="1382.0" y="1080.0" width="11" height="11" rx="1.5" fill="#ff3333"/><path d="M1375.4 1117.6 L1381.4 1117.6 L1386.8 1124.0 L1381.4 1130.4 L1375.4 1130.4 Z" fill="#fff" stroke="#fff" stroke-width="1" stroke-linejoin="round"/><circle cx="1378.0" cy="1155.0" r="4.4" fill="#050505" stroke="#9a0a0a" stroke-width="1.9"/><path d="M1384.2 1152.0 L1387.4 1155.0 L1384.2 1158.0 Z" fill="#9a0a0a"/><circle cx="1577.0" cy="1164.0" r="5.3" fill="#00a6ee"/><path d="M1583.2 1161.0 L1586.4 1164.0 L1583.2 1167.0 Z" fill="#00a6ee"/><g transform="translate(1633.7,1072.7)" stroke="#3ab6ee" stroke-width="1.45" stroke-linecap="round" fill="none"><path d="M10 1 C8.7 0 7.2 0.8 6.8 3 L5.3 9.3 C4.8 11.6 3.1 12.4 0.9 11.3"/><path d="M2.4 3.6 L10.3 4.4"/></g><path d="M1634.4 1117.6 L1640.4 1117.6 L1645.8 1124.0 L1640.4 1130.4 L1634.4 1130.4 Z" fill="#fff" stroke="#fff" stroke-width="1" stroke-linejoin="round"/><path d="M1826.9 1117.6 L1832.9 1117.6 L1838.3 1124.0 L1832.9 1130.4 L1826.9 1130.4 Z" fill="#fff" stroke="#fff" stroke-width="1" stroke-linejoin="round"/><circle cx="1640.0" cy="1155.0" r="5.3" fill="#00a6ee"/><path d="M1646.2 1152.0 L1649.4 1155.0 L1646.2 1158.0 Z" fill="#00a6ee"/><rect x="1828.5" y="1149.5" width="3" height="3" fill="#12cf12"/><rect x="1828.5" y="1153.5" width="3" height="3" fill="#12cf12"/><rect x="1828.5" y="1157.5" width="3" height="3" fill="#12cf12"/><rect x="1832.5" y="1149.5" width="3" height="3" fill="#12cf12"/><rect x="1832.5" y="1153.5" width="3" height="3" fill="#12cf12"/><rect x="1832.5" y="1157.5" width="3" height="3" fill="#12cf12"/><rect x="1836.5" y="1149.5" width="3" height="3" fill="#12cf12"/><rect x="1836.5" y="1153.5" width="3" height="3" fill="#12cf12"/><rect x="1836.5" y="1157.5" width="3" height="3" fill="#12cf12"/><g transform="translate(2113.7,1072.7)" stroke="#3ab6ee" stroke-width="1.45" stroke-linecap="round" fill="none"><path d="M10 1 C8.7 0 7.2 0.8 6.8 3 L5.3 9.3 C4.8 11.6 3.1 12.4 0.9 11.3"/><path d="M2.4 3.6 L10.3 4.4"/></g><path d="M2114.4 1117.6 L2120.4 1117.6 L2125.8 1124.0 L2120.4 1130.4 L2114.4 1130.4 Z" fill="#fff" stroke="#fff" stroke-width="1" stroke-linejoin="round"/><path d="M2292.2 1117.8 L2297.2 1117.8 L2302.0 1124.0 L2297.2 1130.2 L2292.2 1130.2 Z" fill="none" stroke="#fff" stroke-width="1.5" stroke-linejoin="round"/><circle cx="2120.0" cy="1155.0" r="5.3" fill="#00a6ee"/><path d="M2126.2 1152.0 L2129.4 1155.0 L2126.2 1158.0 Z" fill="#00a6ee"/><rect x="2114.0" y="1179.0" width="3" height="3" fill="#12cf12"/><rect x="2114.0" y="1183.0" width="3" height="3" fill="#12cf12"/><rect x="2114.0" y="1187.0" width="3" height="3" fill="#12cf12"/><rect x="2118.0" y="1179.0" width="3" height="3" fill="#12cf12"/><rect x="2118.0" y="1183.0" width="3" height="3" fill="#12cf12"/><rect x="2118.0" y="1187.0" width="3" height="3" fill="#12cf12"/><rect x="2122.0" y="1179.0" width="3" height="3" fill="#12cf12"/><rect x="2122.0" y="1183.0" width="3" height="3" fill="#12cf12"/><rect x="2122.0" y="1187.0" width="3" height="3" fill="#12cf12"/><circle cx="2120.0" cy="1215.0" r="5.3" fill="#12cf12"/><path d="M2126.2 1212.0 L2129.4 1215.0 L2126.2 1218.0 Z" fill="#12cf12"/><circle cx="2120.0" cy="1245.0" r="5.3" fill="#1fdcb0"/><path d="M2126.2 1242.0 L2129.4 1245.0 L2126.2 1248.0 Z" fill="#1fdcb0"/><circle cx="2120.0" cy="1277.0" r="4.4" fill="#050505" stroke="#9a0a0a" stroke-width="1.9"/><path d="M2126.2 1274.0 L2129.4 1277.0 L2126.2 1280.0 Z" fill="#9a0a0a"/><path d="M2168 1277.5 L2171.3 1280.8 L2177.5 1273.5" stroke="#1f7cff" stroke-width="1.9" fill="none"/><circle cx="2058.0" cy="1155.0" r="5.3" fill="#00a6ee"/><path d="M2064.2 1152.0 L2067.4 1155.0 L2064.2 1158.0 Z" fill="#00a6ee"/><g transform="translate(1633.7,1232.7)" stroke="#7fd49a" stroke-width="1.45" stroke-linecap="round" fill="none"><path d="M10 1 C8.7 0 7.2 0.8 6.8 3 L5.3 9.3 C4.8 11.6 3.1 12.4 0.9 11.3"/><path d="M2.4 3.6 L10.3 4.4"/></g><circle cx="1640.0" cy="1283.0" r="5.3" fill="#00a6ee"/><path d="M1646.2 1280.0 L1649.4 1283.0 L1646.2 1286.0 Z" fill="#00a6ee"/><circle cx="1830.0" cy="1283.0" r="5.3" fill="#1fdcb0"/><path d="M1836.2 1280.0 L1839.4 1283.0 L1836.2 1286.0 Z" fill="#1fdcb0"/><circle cx="1529.0" cy="1283.0" r="5.3" fill="#00a6ee"/><path d="M1535.2 1280.0 L1538.4 1283.0 L1535.2 1286.0 Z" fill="#00a6ee"/><circle cx="1896.0" cy="1283.0" r="5.3" fill="#1fdcb0"/><path d="M1902.2 1280.0 L1905.4 1283.0 L1902.2 1286.0 Z" fill="#1fdcb0"/><circle cx="1980.5" cy="1283.0" r="5.3" fill="#12cf12"/><path d="M1986.7 1280.0 L1989.9 1283.0 L1986.7 1286.0 Z" fill="#12cf12"/><ellipse cx="1940.5" cy="1281.5" rx="3" ry="3.4" fill="#bdbdbd"/><g transform="translate(1648.7,1326.7)" stroke="#7fd49a" stroke-width="1.45" stroke-linecap="round" fill="none"><path d="M10 1 C8.7 0 7.2 0.8 6.8 3 L5.3 9.3 C4.8 11.6 3.1 12.4 0.9 11.3"/><path d="M2.4 3.6 L10.3 4.4"/></g><circle cx="1656.0" cy="1378.0" r="5.3" fill="#00a6ee"/><path d="M1662.2 1375.0 L1665.4 1378.0 L1662.2 1381.0 Z" fill="#00a6ee"/><circle cx="1846.5" cy="1378.0" r="5.3" fill="#1fdcb0"/><path d="M1852.7 1375.0 L1855.9 1378.0 L1852.7 1381.0 Z" fill="#1fdcb0"/><rect x="308.0" y="317.0" width="11" height="11" rx="1.8" fill="#ff3333"/><rect x="836.0" y="317.0" width="11" height="11" rx="1.8" fill="#ff3333"/><rect x="564.0" y="557.0" width="11" height="11" rx="1.8" fill="#ff3333"/><rect x="1267.5" y="557.0" width="11" height="11" rx="1.8" fill="#ff3333"/><circle cx="487.5" cy="802.3" r="5.6" fill="#fff"/><path d="M492.5 799.3 L496.0 802.3 L492.5 805.3 Z" fill="#fff"/><circle cx="2679.3" cy="802.3" r="5.6" fill="#fff"/><path d="M2684.3 799.3 L2687.8 802.3 L2684.3 805.3 Z" fill="#fff"/><circle cx="1991.8" cy="1378.0" r="5.6" fill="#1fdcb0"/><path d="M1996.8 1375.0 L2000.3 1378.0 L1996.8 1381.0 Z" fill="#1fdcb0"/><rect x="1908.0" y="1179.0" width="3" height="3" fill="#12cf12"/><rect x="1908.0" y="1183.0" width="3" height="3" fill="#12cf12"/><rect x="1908.0" y="1187.0" width="3" height="3" fill="#12cf12"/><rect x="1912.0" y="1179.0" width="3" height="3" fill="#12cf12"/><rect x="1912.0" y="1183.0" width="3" height="3" fill="#12cf12"/><rect x="1912.0" y="1187.0" width="3" height="3" fill="#12cf12"/><rect x="1916.0" y="1179.0" width="3" height="3" fill="#12cf12"/><rect x="1916.0" y="1183.0" width="3" height="3" fill="#12cf12"/><rect x="1916.0" y="1187.0" width="3" height="3" fill="#12cf12"/></svg>
<div style="position:absolute;left:0;top:0;width:2816px;height:1457px;will-change:transform"><div class="t" style="left:145.0px;top:159.8px;font-size:12px;font-weight:700;color:#d9d9d9;text-shadow:1px 1px 1px rgba(0,0,0,.6);">Event BeginPlay</div><div class="t" style="left:354.0px;top:159.8px;font-size:12px;font-weight:700;color:#d9d9d9;text-shadow:1px 1px 1px rgba(0,0,0,.6);">Create Runtime Audio Importer</div><div class="t" style="left:-466.0px;width:1000px;text-align:right;top:220.8px;font-size:12px;font-weight:400;color:#f2f2f2;">Return Value</div><div class="t" style="left:270.5px;width:1000px;text-align:center;top:179.3px;font-size:11.5px;font-weight:700;color:#c9c9c9;text-shadow:1px 1px 1px rgba(0,0,0,.5);">SET</div><div class="t" style="left:712.0px;top:220.8px;font-size:12px;font-weight:400;color:#f2f2f2;">Audio Importer</div><div class="t" style="left:947.0px;top:159.8px;font-size:12px;font-weight:700;color:#d9d9d9;text-shadow:1px 1px 1px rgba(0,0,0,.6);">Bind Event to On Result</div><div class="t" style="left:950.0px;top:220.8px;font-size:12px;font-weight:400;color:#f2f2f2;">Target</div><div class="t" style="left:946.5px;top:251.3px;font-size:12px;font-weight:400;color:#f2f2f2;">Event</div><div class="t" style="left:1176.0px;top:245.8px;font-size:12px;font-weight:400;color:#f2f2f2;">Audio Importer</div><div class="t" style="left:1379.0px;top:144.3px;font-size:12px;font-weight:700;color:#d9d9d9;text-shadow:1px 1px 1px rgba(0,0,0,.6);">Import Audio from File</div><div class="t" style="left:1379.0px;top:160.3px;font-size:12px;font-weight:400;font-style:italic;color:#aab58c;">Target is Runtime Audio Importer Library</div><div class="t" style="left:1382.0px;top:220.8px;font-size:12px;font-weight:400;color:#f2f2f2;">Target</div><div class="t" style="left:1382.0px;top:250.8px;font-size:12px;font-weight:400;color:#f2f2f2;">File Path</div><div class="t" style="left:1392.0px;top:267.2px;font-size:12.7px;font-weight:400;color:#e6e6e6;">C:\voice_file_example.ogg</div><div class="t" style="left:1382.0px;top:299.8px;font-size:12px;font-weight:400;color:#f2f2f2;">Audio Format</div><div class="t" style="left:1398.0px;top:320.7px;font-size:11.55px;font-weight:400;color:#dcdcdc;">Determine format automatically</div><div class="t" style="left:114.0px;top:416.3px;font-size:12px;font-weight:700;color:#d9d9d9;text-shadow:1px 1px 1px rgba(0,0,0,.6);">OnResult_Event</div><div class="t" style="left:114.0px;top:432.3px;font-size:12px;font-weight:400;font-style:italic;color:#d49a70;">Custom Event</div><div class="t" style="left:-784.5px;width:1000px;text-align:right;top:493.3px;font-size:12px;font-weight:400;color:#f2f2f2;">Importer</div><div class="t" style="left:-784.5px;width:1000px;text-align:right;top:522.8px;font-size:12px;font-weight:400;color:#f2f2f2;">Imported Sound Wave</div><div class="t" style="left:-784.5px;width:1000px;text-align:right;top:552.8px;font-size:12px;font-weight:400;color:#f2f2f2;">Status</div><div class="t" style="left:-94.5px;width:1000px;text-align:center;top:451.3px;font-size:11.5px;font-weight:700;color:#c9c9c9;text-shadow:1px 1px 1px rgba(0,0,0,.5);">SET</div><div class="t" style="left:328.0px;top:492.8px;font-size:12px;font-weight:400;color:#f2f2f2;">Imported Sound Wave</div><div class="t" style="left:690.0px;top:431.8px;font-size:12px;font-weight:700;color:#d9d9d9;text-shadow:1px 1px 1px rgba(0,0,0,.6);">Create Speech Recognizer</div><div class="t" style="left:-156.0px;width:1000px;text-align:right;top:492.8px;font-size:12px;font-weight:400;color:#f2f2f2;">Return Value</div><div class="t" style="left:537.5px;width:1000px;text-align:center;top:451.3px;font-size:11.5px;font-weight:700;color:#c9c9c9;text-shadow:1px 1px 1px rgba(0,0,0,.5);">SET</div><div class="t" style="left:968.0px;top:492.8px;font-size:12px;font-weight:400;color:#f2f2f2;letter-spacing:-0.2px;">Speech Recognizer</div><div class="t" style="left:1176.5px;top:501.8px;font-size:12px;font-weight:400;color:#f2f2f2;letter-spacing:-0.2px;">Speech Recognizer</div><div class="t" style="left:1379.0px;top:431.8px;font-size:12px;font-weight:700;color:#d9d9d9;text-shadow:1px 1px 1px rgba(0,0,0,.6);">Bind Event to On Recognition Finished</div><div class="t" style="left:1382.0px;top:492.8px;font-size:12px;font-weight:400;color:#f2f2f2;">Target</div><div class="t" style="left:1378.0px;top:522.8px;font-size:12px;font-weight:400;color:#f2f2f2;">Event</div><div class="t" style="left:1688.5px;top:501.8px;font-size:12px;font-weight:400;color:#f2f2f2;letter-spacing:-0.2px;">Speech Recognizer</div><div class="t" style="left:1875.0px;top:431.8px;font-size:12px;font-weight:700;color:#d9d9d9;text-shadow:1px 1px 1px rgba(0,0,0,.6);">Bind Event to On Recognition Error</div><div class="t" style="left:1878.0px;top:492.8px;font-size:12px;font-weight:400;color:#f2f2f2;">Target</div><div class="t" style="left:1874.0px;top:522.8px;font-size:12px;font-weight:400;color:#f2f2f2;">Event</div><div class="t" style="left:2168.0px;top:517.3px;font-size:12px;font-weight:400;color:#f2f2f2;letter-spacing:-0.2px;">Speech Recognizer</div><div class="t" style="left:2371.0px;top:431.8px;font-size:12px;font-weight:700;color:#d9d9d9;text-shadow:1px 1px 1px rgba(0,0,0,.6);">Bind Event to On Recognized Text Segment</div><div class="t" style="left:2374.0px;top:492.8px;font-size:12px;font-weight:400;color:#f2f2f2;">Target</div><div class="t" style="left:2370.0px;top:522.8px;font-size:12px;font-weight:400;color:#f2f2f2;">Event</div><div class="t" style="left:289.0px;top:592.3px;font-size:12px;font-weight:700;color:#d9d9d9;text-shadow:1px 1px 1px rgba(0,0,0,.6);">OnRecognitionFinished_Event</div><div class="t" style="left:289.0px;top:608.3px;font-size:12px;font-weight:400;font-style:italic;color:#d49a70;">Custom Event</div><div class="t" style="left:536.0px;top:677.8px;font-size:12px;font-weight:400;color:#f2f2f2;letter-spacing:-0.2px;">Speech Recognizer</div><div class="t" style="left:723.0px;top:592.3px;font-size:12px;font-weight:700;color:#d9d9d9;text-shadow:1px 1px 1px rgba(0,0,0,.6);">Stop Speech Recognition</div><div class="t" style="left:723.0px;top:608.3px;font-size:12px;font-weight:400;font-style:italic;color:#aab58c;">Target is Speech Recognizer</div><div class="t" style="left:726.0px;top:668.8px;font-size:12px;font-weight:400;color:#f2f2f2;">Target</div><div class="t" style="left:552.0px;width:1000px;text-align:center;top:627.3px;font-size:11.5px;font-weight:700;color:#c9c9c9;text-shadow:1px 1px 1px rgba(0,0,0,.5);">SET</div><div class="t" style="left:968.3px;top:668.8px;font-size:12px;font-weight:400;color:#f2f2f2;letter-spacing:-0.2px;">Speech Recognizer</div><div class="t" style="left:977.6px;top:687.3px;font-size:11.5px;font-weight:400;color:#cfcfcf;text-shadow:1px 1px 1px rgba(0,0,0,.8);">Select Asset</div><div class="t" style="left:1554.0px;top:608.3px;font-size:12px;font-weight:700;color:#d9d9d9;text-shadow:1px 1px 1px rgba(0,0,0,.6);">OnRecognitionError_Event</div><div class="t" style="left:1554.0px;top:624.3px;font-size:12px;font-weight:400;font-style:italic;color:#d49a70;">Custom Event</div><div class="t" style="left:707.0px;width:1000px;text-align:right;top:684.8px;font-size:12px;font-weight:400;color:#f2f2f2;">Short Error Message</div><div class="t" style="left:707.0px;width:1000px;text-align:right;top:714.8px;font-size:12px;font-weight:400;color:#f2f2f2;">Long Error Message</div><div class="t" style="left:1811.0px;top:623.8px;font-size:12px;font-weight:700;color:#d9d9d9;text-shadow:1px 1px 1px rgba(0,0,0,.6);">Print String</div><div class="t" style="left:1814.0px;top:684.8px;font-size:12px;font-weight:400;color:#f2f2f2;">In String</div><div class="t" style="left:1351.5px;width:1000px;text-align:center;top:713.3px;font-size:12.6px;font-weight:400;color:#f4f4f4;text-shadow:1px 1px 1px #000;">Development Only</div><div class="t" style="left:2017.0px;top:624.3px;font-size:12px;font-weight:700;color:#d9d9d9;text-shadow:1px 1px 1px rgba(0,0,0,.6);">OnRecognizedTextSegment_Event</div><div class="t" style="left:2017.0px;top:640.3px;font-size:12px;font-weight:400;font-style:italic;color:#d49a70;">Custom Event</div><div class="t" style="left:1219.0px;width:1000px;text-align:right;top:700.8px;font-size:12px;font-weight:400;color:#f2f2f2;">Recognized Words</div><div class="t" style="left:2339.0px;top:639.8px;font-size:12px;font-weight:700;color:#d9d9d9;text-shadow:1px 1px 1px rgba(0,0,0,.6);">Print String</div><div class="t" style="left:2342.0px;top:700.8px;font-size:12px;font-weight:400;color:#f2f2f2;">In String</div><div class="t" style="left:1880.0px;width:1000px;text-align:center;top:729.3px;font-size:12.6px;font-weight:400;color:#f4f4f4;text-shadow:1px 1px 1px #000;">Development Only</div><div class="t" style="left:515.0px;top:864.3px;font-size:12px;font-weight:700;color:#d9d9d9;text-shadow:1px 1px 1px rgba(0,0,0,.6);">Set Non Streaming Defaults</div><div class="t" style="left:515.0px;top:880.3px;font-size:12px;font-weight:400;font-style:italic;color:#aab58c;">Target is Speech Recognizer</div><div class="t" style="left:518.0px;top:940.8px;font-size:12px;font-weight:400;color:#f2f2f2;">Target</div><div class="t" style="left:-323.0px;width:1000px;text-align:right;top:940.8px;font-size:12px;font-weight:400;color:#f2f2f2;">Return Value</div><div class="t" style="left:328.5px;top:949.8px;font-size:12px;font-weight:400;color:#f2f2f2;letter-spacing:-0.2px;">Speech Recognizer</div><div class="t" style="left:776.5px;top:949.8px;font-size:12px;font-weight:400;color:#f2f2f2;letter-spacing:-0.2px;">Speech Recognizer</div><div class="t" style="left:962.0px;top:864.3px;font-size:12px;font-weight:700;color:#d9d9d9;text-shadow:1px 1px 1px rgba(0,0,0,.6);">Set Language</div><div class="t" style="left:962.0px;top:880.3px;font-size:12px;font-weight:400;font-style:italic;color:#aab58c;">Target is Speech Recognizer</div><div class="t" style="left:966.0px;top:940.8px;font-size:12px;font-weight:400;color:#f2f2f2;">Target</div><div class="t" style="left:261.0px;width:1000px;text-align:right;top:940.8px;font-size:12px;font-weight:400;color:#f2f2f2;">Return Value</div><div class="t" style="left:966.5px;top:970.8px;font-size:12px;font-weight:400;color:#f2f2f2;">Language</div><div class="t" style="left:982.0px;top:992.7px;font-size:11px;font-weight:400;color:#dcdcdc;">English</div><div class="t" style="left:1336.5px;top:949.8px;font-size:12px;font-weight:400;color:#f2f2f2;letter-spacing:-0.2px;">Speech Recognizer</div><div class="t" style="left:1522.0px;top:864.3px;font-size:12px;font-weight:700;color:#d9d9d9;text-shadow:1px 1px 1px rgba(0,0,0,.6);">Start Speech Recognition</div><div class="t" style="left:1522.0px;top:880.3px;font-size:12px;font-weight:400;font-style:italic;color:#aab58c;">Target is Speech Recognizer</div><div class="t" style="left:1526.0px;top:940.8px;font-size:12px;font-weight:400;color:#f2f2f2;">Target</div><div class="t" style="left:1522.0px;top:970.8px;font-size:12px;font-weight:400;color:#f2f2f2;">On Started</div><div class="t" style="left:1169.0px;top:1072.3px;font-size:12px;font-weight:700;color:#d9d9d9;text-shadow:1px 1px 1px rgba(0,0,0,.6);">OnStartSpeechRecognition_Event</div><div class="t" style="left:1169.0px;top:1088.3px;font-size:12px;font-weight:400;font-style:italic;color:#d49a70;">Custom Event</div><div class="t" style="left:366.0px;width:1000px;text-align:right;top:1148.8px;font-size:12px;font-weight:400;color:#f2f2f2;">Succeeded</div><div class="t" style="left:1448.0px;top:1157.8px;font-size:12px;font-weight:400;color:#f2f2f2;">Imported Sound Wave</div><div class="t" style="left:1651.0px;top:1072.3px;font-size:12px;font-weight:700;color:#d9d9d9;text-shadow:1px 1px 1px rgba(0,0,0,.6);">Get PCM Buffer</div><div class="t" style="left:1651.0px;top:1088.3px;font-size:12px;font-weight:400;font-style:italic;color:#aab58c;">Target is Imported Sound Wave</div><div class="t" style="left:1654.0px;top:1148.8px;font-size:12px;font-weight:400;color:#f2f2f2;">Target</div><div class="t" style="left:823.0px;width:1000px;text-align:right;top:1148.8px;font-size:12px;font-weight:400;color:#f2f2f2;">Return Value</div><div class="t" style="left:2131.0px;top:1072.3px;font-size:12px;font-weight:700;color:#d9d9d9;text-shadow:1px 1px 1px rgba(0,0,0,.6);">Process Audio Data</div><div class="t" style="left:2131.0px;top:1088.3px;font-size:12px;font-weight:400;font-style:italic;color:#aab58c;">Target is Speech Recognizer</div><div class="t" style="left:2134.0px;top:1148.8px;font-size:12px;font-weight:400;color:#f2f2f2;">Target</div><div class="t" style="left:2130.0px;top:1178.3px;font-size:12px;font-weight:400;color:#f2f2f2;">PCMData</div><div class="t" style="left:2134.0px;top:1208.8px;font-size:12px;font-weight:400;color:#f2f2f2;">Sample Rate</div><div class="t" style="left:2134.0px;top:1238.8px;font-size:12px;font-weight:400;color:#f2f2f2;">Num Of Channels</div><div class="t" style="left:2134.0px;top:1270.8px;font-size:12px;font-weight:400;color:#f2f2f2;">Last</div><div class="t" style="left:1944.5px;top:1148.8px;font-size:12px;font-weight:400;color:#f2f2f2;letter-spacing:-0.2px;">Speech Recognizer</div><div class="t" style="left:1651.0px;top:1232.3px;font-size:12px;font-weight:700;color:#d9d9d9;text-shadow:1px 1px 1px rgba(0,0,0,.6);">Get Sample Rate</div><div class="t" style="left:1651.0px;top:1248.3px;font-size:12px;font-weight:400;font-style:italic;color:#aab58c;">Target is Imported Sound Wave</div><div class="t" style="left:1654.0px;top:1276.8px;font-size:12px;font-weight:400;color:#f2f2f2;">Target</div><div class="t" style="left:819.0px;width:1000px;text-align:right;top:1276.8px;font-size:12px;font-weight:400;color:#f2f2f2;">Return Value</div><div class="t" style="left:1400.0px;top:1276.8px;font-size:12px;font-weight:400;color:#f2f2f2;">Imported Sound Wave</div><div class="t" style="left:1666.0px;top:1326.3px;font-size:12px;font-weight:700;color:#d9d9d9;text-shadow:1px 1px 1px rgba(0,0,0,.6);">Get Num Of Channels</div><div class="t" style="left:1666.0px;top:1342.3px;font-size:12px;font-weight:400;font-style:italic;color:#aab58c;">Target is Imported Sound Wave</div><div class="t" style="left:1670.0px;top:1371.8px;font-size:12px;font-weight:400;color:#f2f2f2;">Target</div><div class="t" style="left:835.0px;width:1000px;text-align:right;top:1371.8px;font-size:12px;font-weight:400;color:#f2f2f2;">Return Value</div></div>
<svg width="40" height="40" style="left:2768px;top:1412px"><path d="M5 18 L18 5 M10 18 L18 10 M14 18 L18 14" stroke="#f0f0f0" stroke-width="1.6"/></svg>
</body></html>
